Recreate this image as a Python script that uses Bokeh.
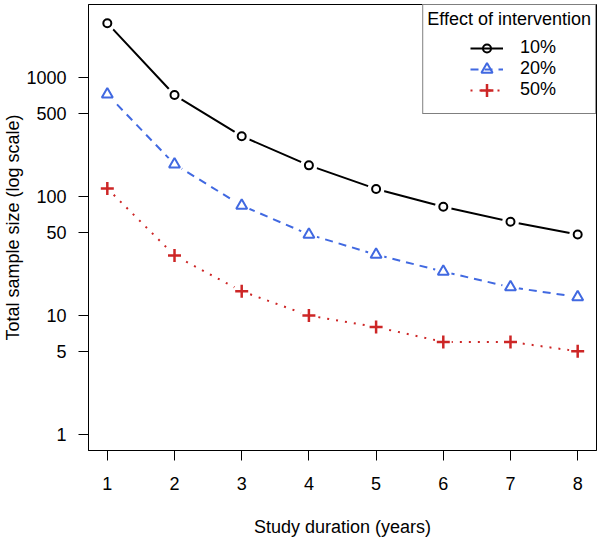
from bokeh.plotting import figure
from bokeh.models import Range1d, FixedTicker, Legend, LegendItem, ColumnDataSource
from bokeh.embed import file_html
from bokeh.resources import INLINE

# ---- data ----
years = [1, 2, 3, 4, 5, 6, 7, 8]
n_10 = [2870, 714, 322, 183, 116, 82, 61.5, 48]
n_20 = [724, 187, 84, 48, 32.5, 23.4, 17.3, 14.3]
n_50 = [117, 32, 16, 10, 8, 6, 6, 5]
series_labels = ["10%", "20%", "50%"]
legend_title = "Effect of intervention"
y_ticks = [1, 5, 10, 50, 100, 500, 1000]
y_tick_labels = ["1", "5", "10", "50", "100", "500", "1000"]
x_ticks = years
x_label = "Study duration (years)"
y_label = "Total sample size (log scale)"

FONT = "Liberation Sans"
FS = "18px"

p = figure(width=600, height=539, y_axis_type="log",
           x_range=Range1d(0.72, 8.28),
           y_range=Range1d(10 ** -0.135, 10 ** 3.615),
           output_backend="svg", toolbar_location=None,
           min_border_left=85, min_border_right=4,
           min_border_top=4, min_border_bottom=88)

p.xgrid.visible = False
p.ygrid.visible = False
p.outline_line_color = "black"
p.outline_line_width = 1
p.background_fill_color = "white"
p.border_fill_color = "white"

styles = [
    dict(color="black", dash="solid", marker="circle", size=8, lw=2, gh=20, ly=392),
    dict(color="#4169E1", dash="8 6", marker="triangle", size=11, lw=2, gh=28, ly=367.5),
    dict(color="#CD2626", dash="2 7", marker="cross", size=13, lw=2.5, gh=32, ly=344.5),
]
series = [n_10, n_20, n_50]
sources = [ColumnDataSource(dict(x=years, y=s)) for s in series]

# lines
line_rs = []
for src, st in zip(sources, styles):
    r = p.line("x", "y", source=src, line_color=st["color"], line_width=2,
               line_dash=st["dash"])
    line_rs.append(r)
# white gaps around points (R type="b")
for src in sources:
    p.scatter("x", "y", source=src, marker="circle", size=17,
              fill_color="white", line_color=None)
# markers
marker_rs = []
for src, st in zip(sources, styles):
    r = p.scatter("x", "y", source=src, marker=st["marker"], size=st["size"],
                  fill_color=None, line_color=st["color"], line_width=st["lw"])
    marker_rs.append(r)

# legend box with title (empty rows)
dummy = p.scatter(x=[], y=[], size=1, alpha=0)
box_items = [LegendItem(label=" ", renderers=[dummy]) for _ in series_labels]
legend_box = Legend(items=box_items, location="top_right", title=legend_title,
                    margin=0, padding=4, spacing=0, label_height=22,
                    glyph_height=22, glyph_width=5, label_standoff=0,
                    border_line_color="black", border_line_width=1,
                    background_fill_color="white", background_fill_alpha=1,
                    title_text_font=FONT, title_text_font_size=FS,
                    title_text_font_style="normal", title_standoff=13,
                    title_text_color="black",
                    label_text_font=FONT, label_text_font_size=FS)
p.add_layout(legend_box)

# legend entries (one per row so each marker keeps its size)
for lbl, ln, mk, st in zip(series_labels, line_rs, marker_rs, styles):
    lg = Legend(items=[LegendItem(label=lbl, renderers=[ln, mk])],
                location=(382, st["ly"]), margin=0, padding=0, spacing=0,
                label_height=21, glyph_height=st["gh"], glyph_width=33,
                label_standoff=17, border_line_color=None,
                background_fill_alpha=0,
                label_text_font=FONT, label_text_font_size=FS,
                label_text_color="black")
    p.add_layout(lg)

# axes
p.xaxis.ticker = FixedTicker(ticks=x_ticks)
p.yaxis.ticker = FixedTicker(ticks=y_ticks)
p.yaxis.major_label_overrides = {v: l for v, l in zip(y_ticks, y_tick_labels)}
p.xaxis.axis_label = x_label
p.yaxis.axis_label = y_label
for ax in (p.xaxis, p.yaxis):
    ax.axis_line_color = "black"
    ax.major_tick_line_color = "black"
    ax.major_tick_line_width = 1
    ax.major_tick_out = 10
    ax.major_tick_in = 0
    ax.minor_tick_line_color = None
    ax.major_label_text_font = FONT
    ax.major_label_text_font_size = FS
    ax.major_label_text_color = "black"
    ax.axis_label_text_font = FONT
    ax.axis_label_text_font_size = FS
    ax.axis_label_text_font_style = "normal"
    ax.axis_label_text_color = "black"
p.xaxis.major_label_standoff = 16
p.xaxis.axis_label_standoff = 24
p.yaxis.major_label_standoff = 12
p.yaxis.axis_label_standoff = 0

open("out.html", "w").write(file_html(p, INLINE))
